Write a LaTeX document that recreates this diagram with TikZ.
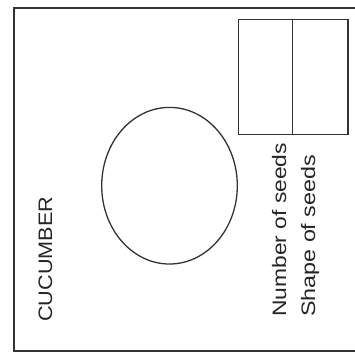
\documentclass[tikz,border=0pt]{standalone}
\usepackage{fontspec}
\setmainfont{Liberation Sans}
\usetikzlibrary{shapes.geometric}
\begin{document}
\begin{tikzpicture}[x=1pt,y=-1pt,
  ink/.style={draw=black!80},
  lbl/.style={rotate=90,inner sep=0pt,anchor=base west,text=black!85,font=\fontsize{19.5}{20}\selectfont}]
\useasboundingbox (0,0) rectangle (355,354);
\clip (0,0) rectangle (355,354);
\fill[white] (0,0) rectangle (355,354);
% outer frame
\draw[ink,line width=2pt] (14,8) rectangle (370,351);
% chart box
\draw[ink,line width=1pt] (238.5,19) rectangle (348,134);
\draw[ink,line width=2.5pt] (348,19) -- (348,134);
\draw[ink,line width=0.8pt] (292,19) -- (292,134);
% ellipse
\node[ink,line width=1.3pt,ellipse,minimum width=135.6pt,minimum height=156.6pt,inner sep=0pt] (fruit) at (169.5,185.7) {};
% labels
\node[lbl] (name) at (52,322) {\scalebox{1.11}[1]{CUCUMBER}};
\node[lbl] (num) at (286,317) {\scalebox{1.17}[1]{Number of seeds}};
\node[lbl] (shape) at (315,317) {\scalebox{1.195}[1]{Shape of seeds}};
\end{tikzpicture}
\end{document}
